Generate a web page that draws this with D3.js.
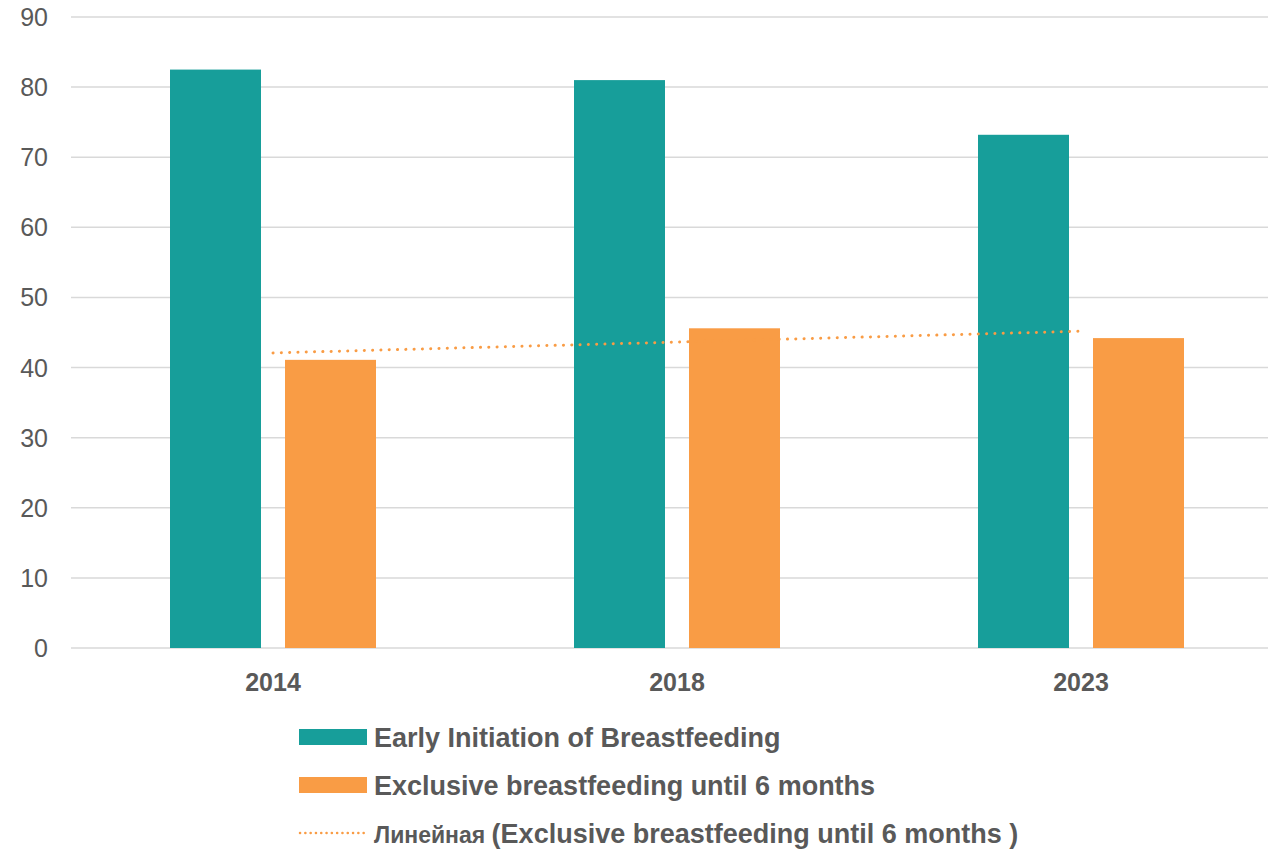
<!DOCTYPE html>
<html>
<head>
    <title>Breastfeeding indicators</title>
    <script src="https://d3js.org/d3.v7.min.js"></script>
    <style>
        body { margin: 0; background: #fff; }
        svg { font-family: "Liberation Sans", Arial, sans-serif; }
    </style>
</head>
<body>
    <div id="chart"></div>

    <script>
        // Data
        const years = ["2014", "2018", "2023"];
        const earlyInitiation = [82.5, 81.0, 73.2];
        const exclusiveBF = [41.1, 45.6, 44.2];
        const yTicks = [0, 10, 20, 30, 40, 50, 60, 70, 80, 90];
        const seriesNames = ["Early Initiation of Breastfeeding", "Exclusive breastfeeding until 6 months"];
        const trendPrefix = "Линейная";
        const trendName = "(Exclusive breastfeeding until 6 months )";

        const teal = "#179e9a";
        const orange = "#f99c45";
        const textColor = "#595959";

        const W = 1268, H = 850;
        const plot = { left: 71, right: 1283, top: 17, bottom: 648 };

        const svg = d3.select("#chart")
            .append("svg")
            .attr("width", W)
            .attr("height", H);

        // Scales
        const x = d3.scaleBand()
            .domain(years)
            .range([plot.left, plot.right]);

        const y = d3.scaleLinear()
            .domain([0, 90])
            .range([plot.bottom, plot.top]);

        const barW = 91, gap = 24;

        // Gridlines
        svg.append("g")
            .selectAll("line")
            .data(yTicks)
            .enter().append("line")
            .attr("x1", plot.left)
            .attr("x2", W)
            .attr("y1", d => y(d))
            .attr("y2", d => y(d))
            .attr("stroke", "#d9d9d9")
            .attr("stroke-width", 1.5);

        // Y labels
        svg.append("g")
            .selectAll("text")
            .data(yTicks)
            .enter().append("text")
            .attr("x", 48)
            .attr("y", d => y(d))
            .attr("dy", "0.36em")
            .attr("text-anchor", "end")
            .attr("font-size", 25)
            .attr("fill", textColor)
            .text(d => d);

        // Bars
        const center = d => x(d) + x.bandwidth() / 2;

        svg.append("g")
            .selectAll("rect")
            .data(years)
            .enter().append("rect")
            .attr("x", d => center(d) - gap / 2 - barW)
            .attr("y", (d, i) => y(earlyInitiation[i]))
            .attr("width", barW)
            .attr("height", (d, i) => y(0) - y(earlyInitiation[i]))
            .attr("fill", teal);

        svg.append("g")
            .selectAll("rect")
            .data(years)
            .enter().append("rect")
            .attr("x", d => center(d) + gap / 2)
            .attr("y", (d, i) => y(exclusiveBF[i]))
            .attr("width", barW)
            .attr("height", (d, i) => y(0) - y(exclusiveBF[i]))
            .attr("fill", orange);

        // Linear trendline of the exclusive series
        const n = exclusiveBF.length;
        const xs = d3.range(1, n + 1);
        const mx = d3.mean(xs), my = d3.mean(exclusiveBF);
        const slope = d3.sum(xs, (v, i) => (v - mx) * (exclusiveBF[i] - my)) / d3.sum(xs, v => (v - mx) ** 2);
        const intercept = my - slope * mx;
        const trend = [
            { year: years[0], v: intercept + slope * 1 },
            { year: years[n - 1], v: intercept + slope * n }
        ];

        svg.append("path")
            .datum(trend)
            .attr("fill", "none")
            .attr("stroke", orange)
            .attr("stroke-width", 3)
            .attr("stroke-linecap", "round")
            .attr("stroke-dasharray", "0.1 8.2")
            .attr("d", d3.line().x(d => center(d.year)).y(d => y(d.v)));

        // X labels
        svg.append("g")
            .selectAll("text")
            .data(years)
            .enter().append("text")
            .attr("x", d => center(d))
            .attr("y", 691)
            .attr("text-anchor", "middle")
            .attr("font-size", 25)
            .attr("font-weight", "bold")
            .attr("fill", textColor)
            .text(d => d);

        // Legend
        const legend = svg.append("g");
        const colors = [teal, orange];
        seriesNames.forEach((name, i) => {
            const yy = 737 + i * 48;
            legend.append("rect")
                .attr("x", 299).attr("y", yy - 8)
                .attr("width", 68).attr("height", 16)
                .attr("fill", colors[i]);
            legend.append("text")
                .attr("x", 374).attr("y", yy + 10)
                .attr("font-size", 27)
                .attr("font-weight", "bold")
                .attr("fill", textColor)
                .text(name);
        });

        legend.append("line")
            .attr("x1", 300).attr("x2", 367)
            .attr("y1", 833).attr("y2", 833)
            .attr("stroke", orange)
            .attr("stroke-width", 2.5)
            .attr("stroke-linecap", "round")
            .attr("stroke-dasharray", "0.1 5.2");

        const t = legend.append("text")
            .attr("x", 374).attr("y", 843)
            .attr("fill", textColor)
            .attr("font-weight", "bold");
        t.append("tspan").attr("font-size", 23).text(trendPrefix + " ");
        t.append("tspan").attr("font-size", 27).text(trendName);
    </script>
</body>
</html>
